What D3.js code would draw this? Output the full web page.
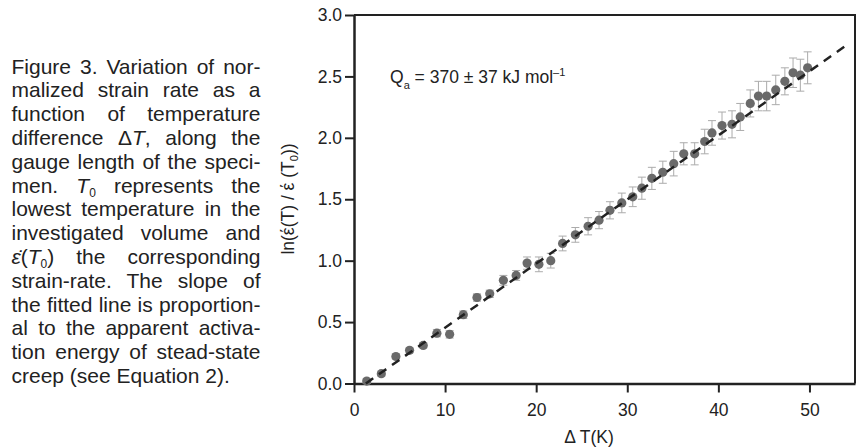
<!DOCTYPE html>
<html>
<head>
<meta charset="utf-8">
<script src="https://cdn.jsdelivr.net/npm/d3@7"></script>
<style>
  body { margin: 0; background: #fff; }
  svg { display: block; font-family: "Liberation Sans", Arial, Helvetica, sans-serif; }
  .axis path, .axis line { stroke: #222; }
  .axis text { fill: #222; font-size: 17.5px; font-family: "Liberation Sans", Arial, sans-serif; }
</style>
</head>
<body>
<script>
// data
var deltaT = [1.4, 3.0, 4.6, 6.1, 7.6, 9.1, 10.5, 12.0, 13.5, 14.9,
              16.4, 17.8, 19.0, 20.3, 21.6, 22.9, 24.3, 25.7, 26.9, 28.1,
              29.4, 30.6, 31.6, 32.7, 33.9, 35.1, 36.2, 37.4, 38.5, 39.3,
              40.4, 41.5, 42.4, 43.5, 44.4, 45.3, 46.3, 47.3, 48.2, 49.0, 49.8];
var lnRate = [0.02, 0.08, 0.22, 0.27, 0.31, 0.41, 0.40, 0.56, 0.70, 0.73,
              0.84, 0.88, 0.98, 0.97, 1.00, 1.14, 1.21, 1.28, 1.33, 1.41,
              1.47, 1.52, 1.59, 1.67, 1.72, 1.79, 1.87, 1.87, 1.97, 2.04,
              2.10, 2.11, 2.17, 2.28, 2.34, 2.34, 2.39, 2.46, 2.53, 2.51, 2.57];
var errBar = [0.02, 0.02, 0.02, 0.02, 0.02, 0.03, 0.03, 0.03, 0.03, 0.03,
              0.04, 0.04, 0.05, 0.06, 0.06, 0.06, 0.06, 0.07, 0.07, 0.07,
              0.08, 0.08, 0.09, 0.09, 0.09, 0.10, 0.09, 0.09, 0.10, 0.10,
              0.11, 0.11, 0.11, 0.11, 0.12, 0.12, 0.12, 0.11, 0.12, 0.13, 0.13];

// fitted line  ln = slope * dT + intercept
var fitSlope = 0.0522,
    fitIntercept = -0.068,
    fitRange = [1.3, 54.2];

var xMajor = [0, 10, 20, 30, 40, 50],
    xMinor = [5, 15, 25, 35, 45, 55],
    yMajor = [0, 0.5, 1.0, 1.5, 2.0, 2.5, 3.0],
    yMinor = [0.25, 0.75, 1.25, 1.75, 2.25, 2.75];

// caption, one entry per typeset line
var captionLines = [
  ["Figure 3. Variation of nor-"],
  ["malized strain rate as a"],
  ["function of temperature"],
  ["difference \u0394", ["T", "i"], ", along the"],
  ["gauge length of the speci-"],
  ["men. ", ["T", "i"], ["0", "sub"], " represents the"],
  ["lowest temperature in the"],
  ["investigated volume and"],
  [["\u03b5\u0307", "i"], "(", ["T", "i"], ["0", "sub"], ") the corresponding"],
  ["strain-rate. The slope of"],
  ["the fitted line is proportion-"],
  ["al to the apparent activa-"],
  ["tion energy of stead-state"],
  ["creep (see Equation 2)."]
];

var width = 862, height = 448;

var svg = d3.select("body").append("svg")
  .attr("width", width)
  .attr("height", height);

// ---------- caption ----------
var capX = 11.5, capW = 249, capY0 = 73.5, capLead = 23.8;
var cap = svg.append("g")
  .attr("fill", "#222")
  .style("font-size", "21px");

captionLines.forEach(function(segs, i) {
  var t = cap.append("text")
    .attr("x", capX)
    .attr("y", capY0 + i * capLead)
    .attr("xml:space", "preserve");
  var shift = 0;
  segs.forEach(function(s) {
    var txt = typeof s === "string" ? s : s[0];
    var kind = typeof s === "string" ? "" : s[1];
    var sp = t.append("tspan").text(txt);
    if (kind === "i") sp.attr("font-style", "italic");
    if (kind === "sub") {
      sp.attr("font-size", 12).attr("dy", 4 - shift);
      shift = 4;
    } else if (shift) {
      sp.attr("dy", -shift);
      shift = 0;
    }
  });
  if (i < captionLines.length - 1) {
    var full = t.text();
    var spaces = full.split(" ").length - 1;
    var w = t.node().getComputedTextLength();
    t.style("word-spacing", ((capW - w) / spaces) + "px");
  }
});

// ---------- chart ----------
var x = d3.scaleLinear().domain([0, 55]).range([354, 855]);
var y = d3.scaleLinear().domain([0, 3]).range([383.5, 15]);

// frame top + right
svg.append("path")
  .attr("d", "M" + x(0) + "," + y(3) + "H" + x(55) + "V" + y(0))
  .attr("fill", "none")
  .attr("stroke", "#222")
  .attr("stroke-width", 2);

var gx = svg.append("g")
  .attr("class", "axis")
  .attr("transform", "translate(0," + y(0) + ")");
gx.call(d3.axisBottom(x).tickValues(xMinor).tickSize(5).tickSizeOuter(0).tickFormat(""));
gx.call(d3.axisBottom(x).tickValues(xMajor).tickSize(9).tickSizeOuter(0)
  .tickPadding(11.5).tickFormat(d3.format("d")));

var gy = svg.append("g")
  .attr("class", "axis")
  .attr("transform", "translate(" + x(0) + ",0)");
gy.call(d3.axisLeft(y).tickValues(yMinor).tickSize(5).tickSizeOuter(0).tickFormat(""));
gy.call(d3.axisLeft(y).tickValues(yMajor).tickSize(9).tickSizeOuter(0)
  .tickPadding(3).tickFormat(d3.format(".1f")));

svg.selectAll(".axis path").attr("stroke-width", 2.5);
svg.selectAll(".axis line").attr("stroke-width", 2);

// axis titles
svg.append("text")
  .attr("x", 589).attr("y", 443)
  .attr("text-anchor", "middle")
  .attr("fill", "#222")
  .style("font-size", "17.5px")
  .text("\u0394 T(K)");

var yl = svg.append("text")
  .attr("transform", "translate(294,199) rotate(-90)")
  .attr("text-anchor", "middle")
  .attr("fill", "#222")
  .style("font-size", "17.5px");
yl.append("tspan").text("ln(\u03ad(T) / \u03ad (T");
yl.append("tspan").attr("font-size", 11).attr("dy", 4).text("0");
yl.append("tspan").attr("dy", -4).text("))");

// annotation
var ann = svg.append("text")
  .attr("x", 390).attr("y", 83)
  .attr("fill", "#222")
  .style("font-size", "17.5px");
ann.append("tspan").text("Q");
ann.append("tspan").attr("font-size", 11).attr("dy", 6).text("a");
ann.append("tspan").attr("dy", -6).text(" = 370 \u00b1 37 kJ mol");
ann.append("tspan").attr("font-size", 11).attr("dy", -7).text("\u20131");

// points
var pts = deltaT.map(function(d, i) { return {t: d, v: lnRate[i], e: errBar[i]}; });

var eb = svg.append("g")
  .attr("stroke", "#ababab")
  .attr("stroke-width", 1)
  .attr("fill", "none");
eb.selectAll("path")
  .data(pts)
  .enter()
  .append("path")
  .attr("d", function(d) {
    var cx = x(d.t), y1 = y(d.v + d.e), y2 = y(d.v - d.e);
    return "M" + cx + "," + y1 + "V" + y2 +
           "M" + (cx - 4) + "," + y1 + "H" + (cx + 4) +
           "M" + (cx - 4) + "," + y2 + "H" + (cx + 4);
  });

svg.append("g")
  .selectAll("circle")
  .data(pts)
  .enter()
  .append("circle")
  .attr("cx", function(d) { return x(d.t); })
  .attr("cy", function(d) { return y(d.v); })
  .attr("r", 4.6)
  .attr("fill", "#6a6a6a");

// fitted dashed line on top
var fit = d3.line()
  .x(function(d) { return x(d); })
  .y(function(d) { return y(fitSlope * d + fitIntercept); });

svg.append("path")
  .datum(fitRange)
  .attr("d", fit)
  .attr("fill", "none")
  .attr("stroke", "#222")
  .attr("stroke-width", 2.5)
  .attr("stroke-dasharray", "9,7");
</script>
</body>
</html>
